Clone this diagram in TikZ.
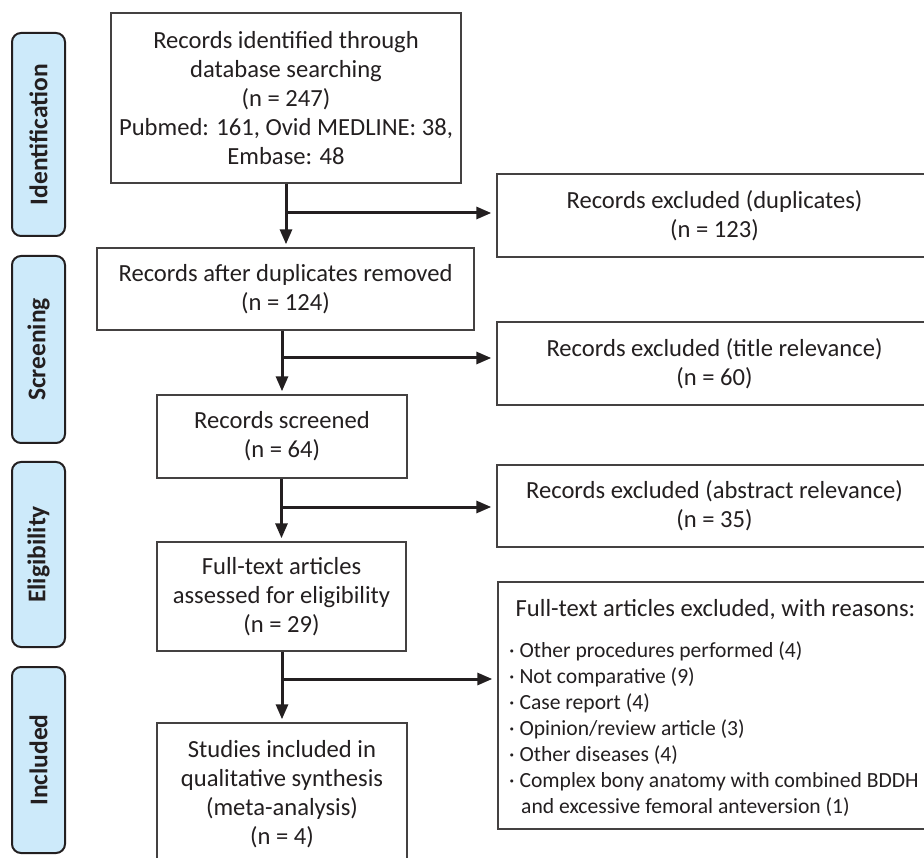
\documentclass[tikz,border=0pt]{standalone}
\usepackage{fontspec}
\setmainfont{Carlito}
\usetikzlibrary{arrows.meta}
\definecolor{ink}{HTML}{231F20}
\definecolor{phasefill}{RGB}{205,234,250}
\begin{document}
\begin{tikzpicture}[x=1pt,y=-1pt,
  box/.style={draw=ink!85, line width=1.4pt, inner sep=0pt, align=center, text=ink,
    font=\fontsize{24.6}{29}\selectfont},
  phase/.style={draw=ink, line width=2pt, fill=phasefill, rounded corners=9pt, inner sep=0pt,
    rotate=90, minimum height=53pt, text=ink, font=\bfseries\fontsize{25.5}{29}\selectfont},
  flow/.style={line width=3pt, draw=ink, -{Triangle[length=15pt,width=12pt]}},
  listtext/.style={align=left, inner sep=0pt, text=ink, font=\fontsize{21.6}{26}\selectfont}
]
\clip (0,0) rectangle (924,858);
\fill[white] (0,0) rectangle (924,858);

% phase bars
\node[phase, minimum width=203pt] (pid) at (38.5,134.5) {Identification};
\node[phase, minimum width=187pt] (pscr) at (38.5,349.5) {Screening};
\node[phase, minimum width=185pt] (pel) at (38.5,554.5) {Eligibility};
\node[phase, minimum width=186pt] (pinc) at (38.5,760) {Included};

% main column
\node[box, minimum width=350pt, minimum height=170pt] (ident) at (286,98)
  {Records identified through\\database searching\\(n = 247)\\Pubmed: 161, Ovid MEDLINE: 38,\\Embase: 48};
\node[box, minimum width=377pt, minimum height=82pt] (removed) at (285.5,289)
  {Records after duplicates removed\\(n = 124)};
\node[box, minimum width=250pt, minimum height=83pt] (screened) at (282,436.5)
  {Records screened\\(n = 64)};
\node[box, minimum width=249pt, minimum height=109pt] (fulltext) at (281.5,596.5)
  {Full-text articles\\assessed for eligibility\\(n = 29)};
\node[box, minimum width=250pt, minimum height=143pt] (included) at (282,794.5)
  {Studies included in\\qualitative synthesis\\(meta-analysis)\\(n = 4)};

% exclusion column
\node[box, minimum width=435pt, minimum height=83pt] (exdup) at (714.5,215.5)
  {Records excluded (duplicates)\\(n = 123)};
\node[box, minimum width=435pt, minimum height=83pt] (extitle) at (714.5,363.5)
  {Records excluded (title relevance)\\(n = 60)};
\node[box, minimum width=435pt, minimum height=82pt] (exabs) at (714.5,506)
  {Records excluded (abstract relevance)\\(n = 35)};
\node[box, minimum width=434pt, minimum height=247pt] (exfull) at (715,705.5) {};
\node[anchor=base, inner sep=0pt, text=ink, font=\fontsize{24.6}{29}\selectfont] (exhead) at (715.5,616)
  {Full-text articles excluded, with reasons:};
\node[listtext, anchor=north west] (exlist) at (509,641)
  {· Other procedures performed (4)\\
   · Not comparative (9)\\
   · Case report (4)\\
   · Opinion/review article (3)\\
   · Other diseases (4)\\
   · Complex bony anatomy with combined BDDH\\
   \hspace*{12pt}and excessive femoral anteversion (1)};

% junctions
\coordinate (j1) at (286,213);
\coordinate (j2) at (282,358);
\coordinate (j3) at (282,507);
\coordinate (j4) at (282,679);

% vertical flow
\draw[flow, shorten >=3pt] (ident.south) -- (ident.south |- removed.north);
\draw[flow, shorten >=3pt] (screened.north |- removed.south) -- (screened.north);
\draw[flow, shorten >=3pt] (fulltext.north |- screened.south) -- (fulltext.north);
\draw[flow, shorten >=3pt] (included.north |- fulltext.south) -- (included.north);

% branches
\draw[flow, shorten >=5pt] (j1) -- (j1 -| exdup.west);
\draw[flow, shorten >=5pt] (j2) -- (j2 -| extitle.west);
\draw[flow, shorten >=5pt] (j3) -- (j3 -| exabs.west);
\draw[flow, shorten >=5pt] (j4) -- (j4 -| exfull.west);
\end{tikzpicture}
\end{document}
